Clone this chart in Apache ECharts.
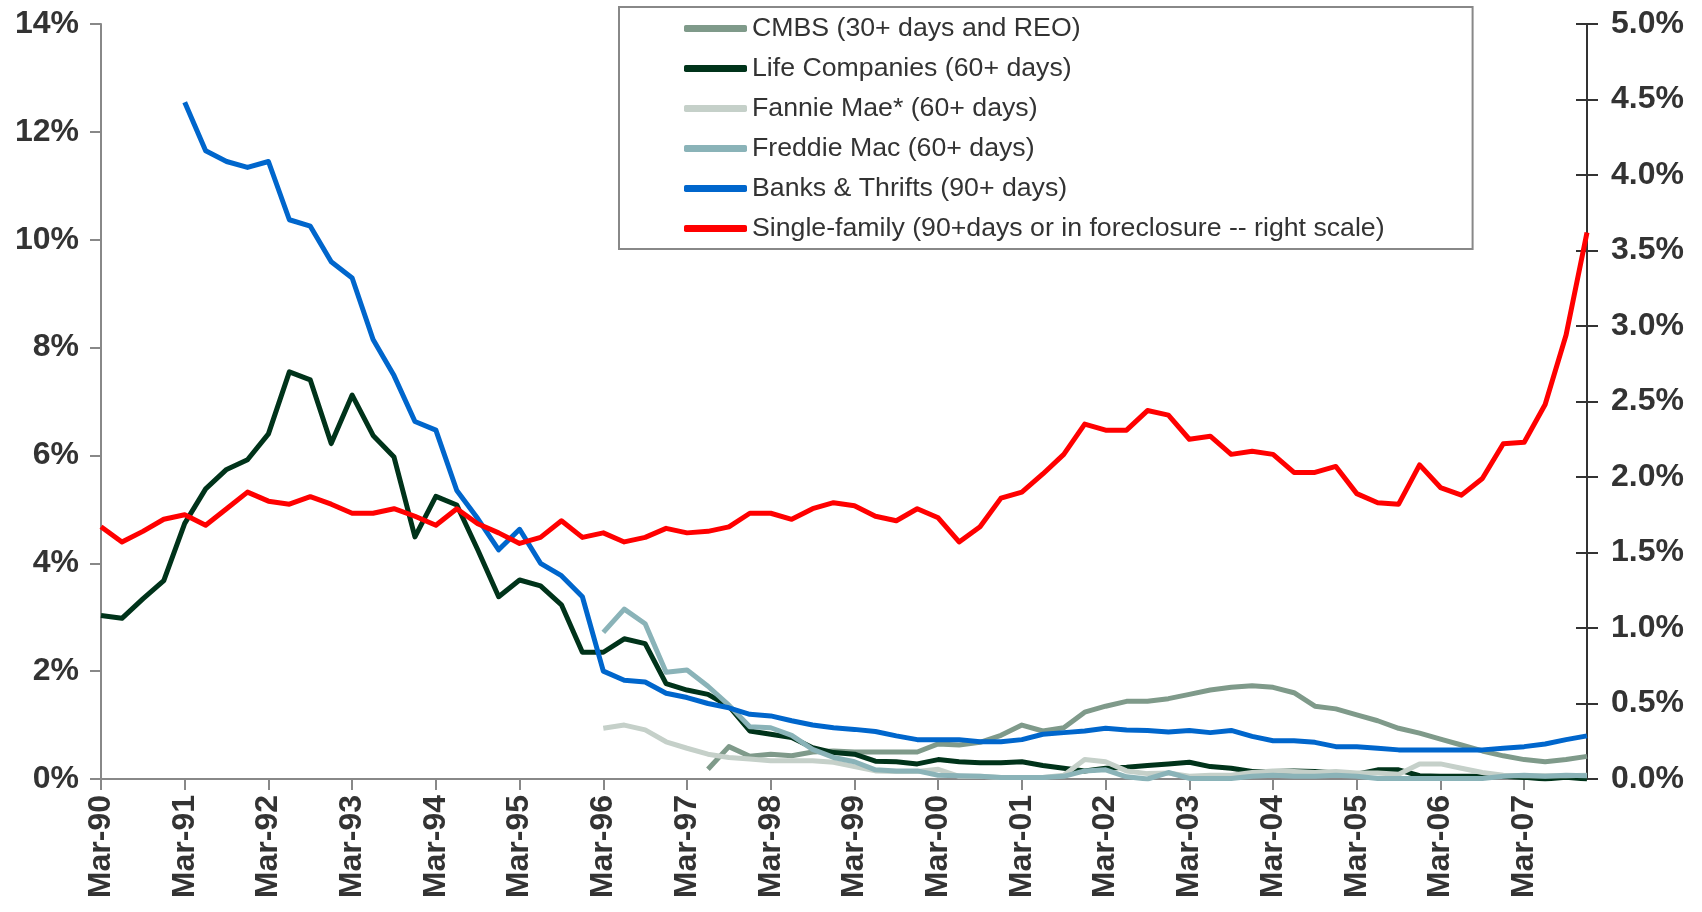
<!DOCTYPE html>
<html>
<head>
<meta charset="utf-8">
<script src="https://cdn.jsdelivr.net/npm/echarts@6/dist/echarts.min.js"></script>
<style>
  html, body { margin: 0; padding: 0; background: #fff; }
  #main { width: 1702px; height: 912px; }
</style>
</head>
<body>
<div id="main"></div>
<script>
// quarterly, Mar-90 .. Dec-07
var months = ['Mar', 'Jun', 'Sep', 'Dec'];
var quarters = [];
for (var y = 90; y <= 107; y++) {
  for (var q = 0; q < 4; q++) {
    var yy = y % 100;
    quarters.push(months[q] + '-' + (yy < 10 ? '0' + yy : '' + yy));
  }
}

var seriesNames = [
  'CMBS (30+ days and REO)',
  'Life Companies (60+ days)',
  'Fannie Mae* (60+ days)',
  'Freddie Mac (60+ days)',
  'Banks & Thrifts (90+ days)',
  'Single-family (90+days or in foreclosure -- right scale)'
];

var cmbs = [
  null, null, null, null, null, null, null, null, null, null, null, null,
  null, null, null, null, null, null, null, null, null, null, null, null,
  null, null, null, null, null, 0.18, 0.60, 0.42, 0.46, 0.43, 0.50, 0.52,
  0.50, 0.50, 0.50, 0.50, 0.65, 0.63, 0.68, 0.81, 1.00, 0.89, 0.95, 1.24,
  1.35, 1.44, 1.44, 1.49, 1.57, 1.65, 1.70, 1.73, 1.70, 1.60, 1.35, 1.30,
  1.19, 1.08, 0.94, 0.85, 0.74, 0.63, 0.52, 0.43, 0.36, 0.32, 0.36, 0.42
];

var lifeCos = [
  3.03, 2.98, 3.34, 3.68, 4.74, 5.38, 5.74, 5.92, 6.40, 7.55, 7.40, 6.22,
  7.12, 6.37, 5.97, 4.49, 5.24, 5.08, 4.25, 3.38, 3.69, 3.58, 3.23, 2.35,
  2.35, 2.60, 2.51, 1.77, 1.65, 1.57, 1.35, 0.89, 0.83, 0.77, 0.58, 0.49,
  0.46, 0.33, 0.32, 0.28, 0.36, 0.32, 0.30, 0.30, 0.32, 0.25, 0.20, 0.15,
  0.20, 0.22, 0.25, 0.28, 0.31, 0.23, 0.20, 0.14, 0.14, 0.15, 0.14, 0.11,
  0.09, 0.17, 0.17, 0.06, 0.05, 0.05, 0.05, 0.05, 0.03, 0.00, 0.03, 0.00
];

var fannie = [
  null, null, null, null, null, null, null, null, null, null, null, null,
  null, null, null, null, null, null, null, null, null, null, null, null,
  0.94, 1.00, 0.91, 0.69, 0.57, 0.46, 0.40, 0.37, 0.34, 0.34, 0.34, 0.31,
  0.23, 0.15, 0.14, 0.14, 0.18, 0.05, 0.05, 0.03, 0.03, 0.03, 0.07, 0.36,
  0.32, 0.15, 0.10, 0.11, 0.05, 0.07, 0.07, 0.12, 0.15, 0.14, 0.12, 0.14,
  0.11, 0.11, 0.09, 0.28, 0.28, 0.20, 0.12, 0.07, 0.06, 0.06, 0.06, 0.07
];

var freddie = [
  null, null, null, null, null, null, null, null, null, null, null, null,
  null, null, null, null, null, null, null, null, null, null, null, null,
  2.72, 3.15, 2.88, 1.98, 2.02, 1.72, 1.37, 0.97, 0.95, 0.81, 0.55, 0.40,
  0.32, 0.17, 0.15, 0.15, 0.07, 0.06, 0.05, 0.03, 0.03, 0.03, 0.05, 0.15,
  0.17, 0.04, 0.00, 0.12, 0.01, 0.01, 0.01, 0.05, 0.07, 0.05, 0.05, 0.07,
  0.05, 0.01, 0.01, 0.01, 0.01, 0.01, 0.01, 0.05, 0.07, 0.05, 0.07, 0.06
];

var banks = [
  null, null, null, null, 12.55, 11.65, 11.45, 11.34, 11.45, 10.37, 10.25, 9.59,
  9.29, 8.15, 7.48, 6.63, 6.47, 5.35, 4.83, 4.25, 4.63, 4.00, 3.77, 3.38,
  2.00, 1.83, 1.80, 1.59, 1.51, 1.40, 1.32, 1.20, 1.17, 1.08, 1.00, 0.95,
  0.92, 0.88, 0.80, 0.73, 0.73, 0.73, 0.69, 0.69, 0.73, 0.83, 0.86, 0.89,
  0.94, 0.91, 0.90, 0.87, 0.90, 0.86, 0.90, 0.79, 0.71, 0.71, 0.68, 0.60,
  0.60, 0.57, 0.54, 0.54, 0.54, 0.54, 0.54, 0.57, 0.60, 0.65, 0.73, 0.80
];

// right scale
var singleFamily = [
  1.67, 1.57, 1.64, 1.72, 1.75, 1.68, 1.79, 1.90, 1.84, 1.82, 1.87, 1.82,
  1.76, 1.76, 1.79, 1.74, 1.68, 1.79, 1.69, 1.63, 1.56, 1.60, 1.71, 1.60,
  1.63, 1.57, 1.60, 1.66, 1.63, 1.64, 1.67, 1.76, 1.76, 1.72, 1.79, 1.83,
  1.81, 1.74, 1.71, 1.79, 1.73, 1.57, 1.67, 1.86, 1.90, 2.02, 2.15, 2.35,
  2.31, 2.31, 2.44, 2.41, 2.25, 2.27, 2.15, 2.17, 2.15, 2.03, 2.03, 2.07,
  1.89, 1.83, 1.82, 2.08, 1.93, 1.88, 1.99, 2.22, 2.23, 2.48, 2.94, 3.62
];

var colors = ['#7f9a8a', '#00331a', '#c5d0c9', '#8ab3b8', '#0066cc', '#ff0000'];
var seriesData = [cmbs, lifeCos, fannie, freddie, banks, singleFamily];

var font = "'Liberation Sans', Arial, sans-serif";
var myChart = echarts.init(document.getElementById('main'));

var series = seriesData.map(function (d, i) {
  return {
    name: seriesNames[i],
    type: 'line',
    data: d,
    yAxisIndex: i === 5 ? 1 : 0,
    showSymbol: false,
    symbol: 'none',
    connectNulls: false,
    lineStyle: { width: 5, color: colors[i], join: 'round' },
    itemStyle: { color: colors[i] },
    emphasis: { disabled: true }
  };
});

var option = {
  animation: false,
  backgroundColor: '#fff',
  grid: { left: 101, right: 115, top: 24, bottom: 133 },
  legend: {
    orient: 'vertical',
    left: 619,
    top: 7,
    padding: [8, 88, 7, 65],
    itemGap: 13,
    itemWidth: 63,
    itemHeight: 7,
    icon: 'roundRect',
    borderColor: '#888',
    borderWidth: 2,
    data: seriesNames,
    textStyle: { fontFamily: font, fontSize: 26.7, color: '#333' }
  },
  xAxis: {
    type: 'category',
    data: quarters,
    boundaryGap: false,
    axisLine: { lineStyle: { color: '#888', width: 2 } },
    axisTick: { interval: 3, length: 11, lineStyle: { color: '#888', width: 2 } },
    axisLabel: {
      interval: 3,
      rotate: 90,
      margin: 16,
      fontFamily: font,
      fontSize: 32,
      fontWeight: 'bold',
      color: '#333'
    },
    splitLine: { show: false }
  },
  yAxis: [
    {
      type: 'value',
      position: 'left',
      min: 0, max: 14, interval: 2,
      axisLine: { show: true, lineStyle: { color: '#888', width: 2 } },
      axisTick: { show: true, length: 11, lineStyle: { color: '#888', width: 2 } },
      axisLabel: {
        formatter: '{value}%', margin: 22,
        fontFamily: font, fontSize: 32, fontWeight: 'bold', color: '#333'
      },
      splitLine: { show: false }
    },
    {
      type: 'value',
      position: 'right',
      min: 0, max: 5, interval: 0.5,
      axisLine: { show: true, lineStyle: { color: '#333', width: 2 } },
      axisTick: { show: true, length: 11, lineStyle: { color: '#333', width: 2 } },
      axisLabel: {
        formatter: function (v) { return v.toFixed(1) + '%'; }, margin: 24,
        fontFamily: font, fontSize: 32, fontWeight: 'bold', color: '#333'
      },
      splitLine: { show: false }
    },
    {
      // inner half of the crossing ticks on the right scale
      type: 'value',
      position: 'right',
      min: 0, max: 5, interval: 0.5,
      axisLine: { show: false },
      axisTick: { show: true, inside: true, length: 11, lineStyle: { color: '#333', width: 2 } },
      axisLabel: { show: false },
      splitLine: { show: false }
    }
  ],
  series: series
};

myChart.setOption(option);
</script>
</body>
</html>
